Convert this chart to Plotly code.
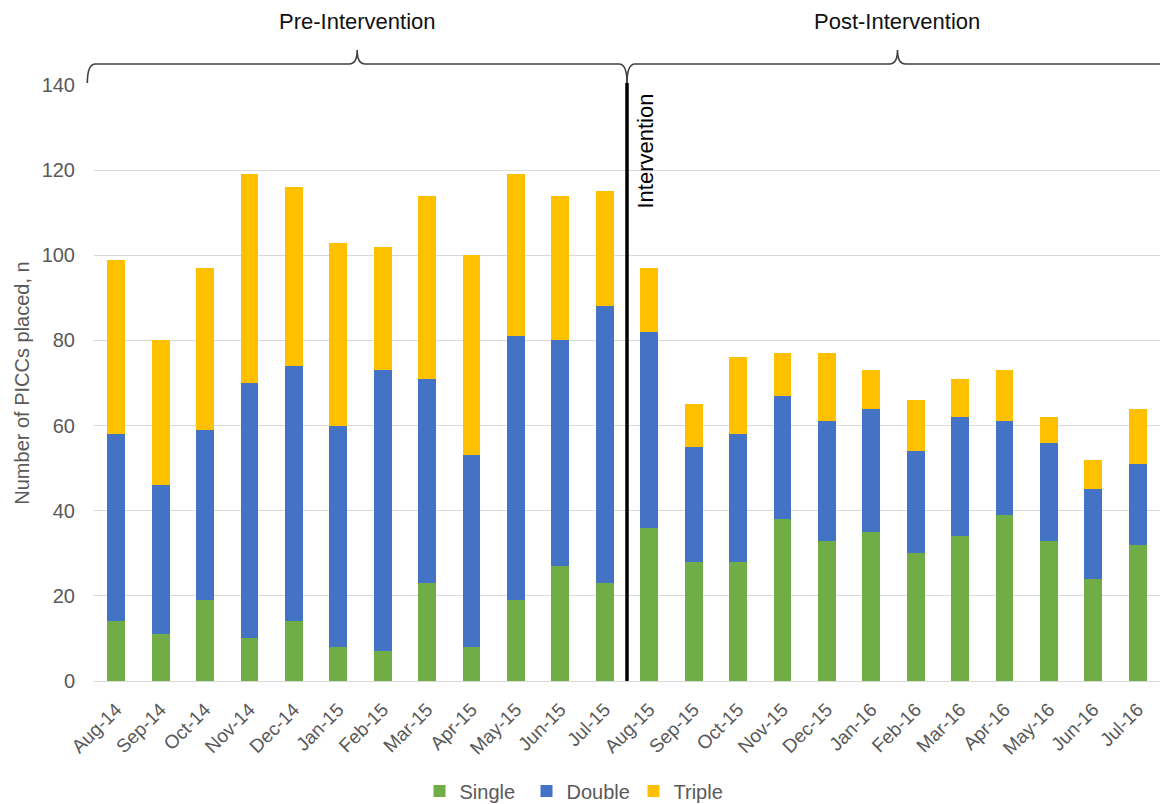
import plotly.graph_objects as go

# Monthly PICC placements by lumen type
months = ["Aug-14", "Sep-14", "Oct-14", "Nov-14", "Dec-14", "Jan-15", "Feb-15", "Mar-15",
          "Apr-15", "May-15", "Jun-15", "Jul-15", "Aug-15", "Sep-15", "Oct-15", "Nov-15",
          "Dec-15", "Jan-16", "Feb-16", "Mar-16", "Apr-16", "May-16", "Jun-16", "Jul-16"]
single = [14, 11, 19, 10, 14, 8, 7, 23, 8, 19, 27, 23,
          36, 28, 28, 38, 33, 35, 30, 34, 39, 33, 24, 32]
double = [44, 35, 40, 60, 60, 52, 66, 48, 45, 62, 53, 65,
          46, 27, 30, 29, 28, 29, 24, 28, 22, 23, 21, 19]
triple = [41, 34, 38, 49, 42, 43, 29, 43, 47, 38, 34, 27,
          15, 10, 18, 10, 16, 9, 12, 9, 12, 6, 7, 13]

y_ticks = [0, 20, 40, 60, 80, 100, 120, 140]
intervention_index = 12  # first post-intervention month

W, H = 1160, 804
ML, MR, MT, MB = 94, 0, 85, 123
PW, PH = W - ML - MR, H - MT - MB
n = len(months)


def cat_to_paper(c):
    return (c + 0.5) / n


def py_to_paper(py):
    return (H - MB - py) / PH


def brace_path(x0, x1, y_line, y_end, y_peak, r):
    xm = (x0 + x1) / 2
    return (f"M {x0},{y_end} Q {x0},{y_line} {x0 + r},{y_line} "
            f"L {xm - r},{y_line} Q {xm},{y_line} {xm},{y_peak} "
            f"Q {xm},{y_line} {xm + r},{y_line} "
            f"L {x1 - r},{y_line} Q {x1},{y_line} {x1},{y_end}")


fig = go.Figure()
for name, vals, col in [("Single", single, "#70AD47"),
                        ("Double", double, "#4472C4"),
                        ("Triple", triple, "#FFC000")]:
    fig.add_trace(go.Bar(x=months, y=vals, name=name, marker_color=col,
                         marker_line_width=0))

font_family = "Liberation Sans, Arial, sans-serif"
split = cat_to_paper(intervention_index - 0.5)
pre_left = cat_to_paper(-0.65)
post_right = cat_to_paper(n - 0.5 + 0.18)
y_line = py_to_paper(64)
y_end = py_to_paper(83)
y_peak = py_to_paper(50)
r = 8 / PW

shapes = [
    dict(type="path", xref="paper", yref="paper",
         path=brace_path(pre_left, split, y_line, y_end, y_peak, r),
         line=dict(color="#404040", width=1.6)),
    dict(type="path", xref="paper", yref="paper",
         path=brace_path(split, post_right, y_line, y_end, y_peak, r),
         line=dict(color="#404040", width=1.6)),
    dict(type="line", xref="x", yref="paper",
         x0=intervention_index - 0.5, x1=intervention_index - 0.5,
         y0=0, y1=py_to_paper(83),
         line=dict(color="black", width=3.5)),
]

annotations = [
    dict(text="Pre-Intervention", xref="paper", yref="paper",
         x=(pre_left + split) / 2, y=py_to_paper(22), showarrow=False,
         xanchor="center", yanchor="middle",
         font=dict(size=22, color="#111111", family=font_family)),
    dict(text="Post-Intervention", xref="paper", yref="paper",
         x=(split + post_right) / 2, y=py_to_paper(22), showarrow=False,
         xanchor="center", yanchor="middle",
         font=dict(size=22, color="#111111", family=font_family)),
    dict(text="Intervention", xref="x", yref="paper",
         x=intervention_index - 0.5, xshift=18, y=py_to_paper(92),
         textangle=-90, showarrow=False, xanchor="center", yanchor="top",
         font=dict(size=22, color="#000000", family=font_family)),
]

fig.update_layout(
    width=W, height=H,
    margin=dict(l=ML, r=MR, t=MT, b=MB, pad=0),
    barmode="stack", bargap=0.6,
    plot_bgcolor="white", paper_bgcolor="white",
    font=dict(family=font_family, color="#595959"),
    shapes=shapes, annotations=annotations,
    legend=dict(orientation="h", xref="container", yref="container",
                x=0.5, y=1 - 791 / H, xanchor="center", yanchor="middle",
                font=dict(size=20, color="#595959"), traceorder="normal",
                itemwidth=30, entrywidth=62, entrywidthmode="pixels"),
    xaxis=dict(type="category", tickangle=-45, showgrid=False,
               showline=True, linecolor="#D9D9D9", linewidth=1,
               ticks="outside", ticklen=9, tickcolor="rgba(0,0,0,0)",
               tickfont=dict(size=19, color="#595959"),
               range=[-0.5, n - 0.5]),
    yaxis=dict(range=[0, 140], tickvals=y_ticks, showgrid=True,
               gridcolor="#D9D9D9", gridwidth=1, zeroline=False,
               showline=False, ticklabelstandoff=18,
               tickfont=dict(size=20, color="#595959"),
               title=dict(text="Number of PICCs placed, n", standoff=6,
                          font=dict(size=20, color="#595959"))),
)

fig.write_html("out.html")
